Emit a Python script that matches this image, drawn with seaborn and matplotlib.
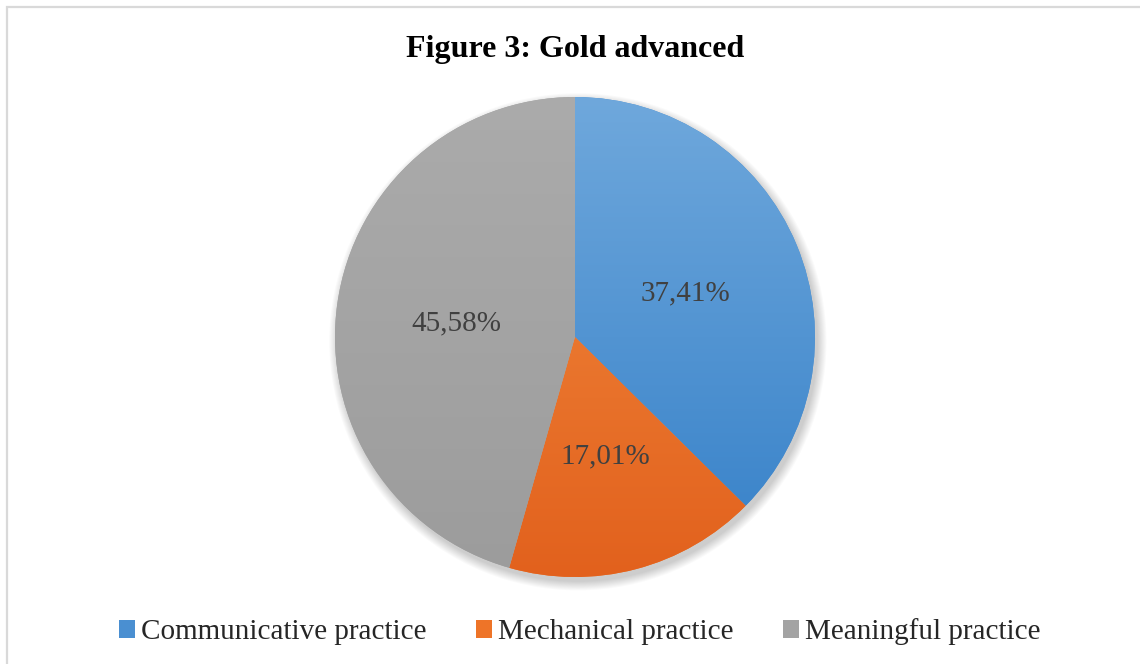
import numpy as np
import matplotlib
matplotlib.use("Agg")
import matplotlib.pyplot as plt
import seaborn as sns
from matplotlib.patches import Rectangle, Circle
from matplotlib.colors import LinearSegmentedColormap

categories = ["Communicative practice", "Mechanical practice", "Meaningful practice"]
values = [37.41, 17.01, 45.58]
title = "Figure 3: Gold advanced"

base_colors = ["#4a8fd1", "#ee7428", "#a3a3a3"]
top_colors = ["#6fa8dc", "#f28c40", "#ababab"]
bottom_colors = ["#3580c8", "#e2611d", "#9c9c9c"]

sns.set_theme(style="white")
plt.rcParams["font.family"] = ["Liberation Serif", "DejaVu Serif"]

fig = plt.figure(figsize=(11.4, 6.64), dpi=100)
W, H = 1140, 664

# chart border (light gray)
fig.patches.append(Rectangle((7 / W, -0.1), 1.2, 1 - 7 / H + 0.1, transform=fig.transFigure,
                             fill=False, edgecolor="#d9d9d9", linewidth=1.6))

fig.text(575 / W, 1 - 50 / H, title, ha="center", va="center", fontsize=23,
         fontweight="bold", color="black")

ax = fig.add_axes([335 / W, 87 / H, 480 / W, 480 / H])

# soft shadow
for k in range(10):
    sh = Circle((0.012, -0.02), 1.0 + 0.004 * k, facecolor="black", edgecolor="none",
                alpha=0.018, zorder=0, clip_on=False)
    ax.add_patch(sh)

wedges, texts, autotexts = ax.pie(
    values, startangle=90, counterclock=False, colors=base_colors, radius=1,
    autopct=lambda p: f"{p:.2f}%".replace(".", ","), pctdistance=0.5,
    wedgeprops=dict(linewidth=0, edgecolor="none"),
    textprops=dict(fontsize=21, color="#404040"))

for w, tc, bc in zip(wedges, top_colors, bottom_colors):
    w.set_zorder(2)
    cmap = LinearSegmentedColormap.from_list("g", [bc, tc])
    grad = np.linspace(0, 1, 256).reshape(-1, 1)
    im = ax.imshow(grad, cmap=cmap, extent=(-1, 1, -1, 1), origin="lower",
                   aspect="auto", zorder=3, interpolation="bilinear")
    im.set_clip_path(w)
for t in autotexts:
    t.set_zorder(5)
    t.set_va("center_baseline")

ax.set_xlim(-1, 1)
ax.set_ylim(-1, 1)
ax.set_aspect("equal")
ax.axis("off")

fig.legend(wedges, categories, loc="center", bbox_to_anchor=(580 / W, 1 - 632 / H),
           ncol=3, frameon=False, fontsize=21, handlelength=0.55, handleheight=0.55,
           handletextpad=0.2, columnspacing=1.7, labelcolor="#262626")

fig.savefig("out.png", dpi=100, facecolor="white")
